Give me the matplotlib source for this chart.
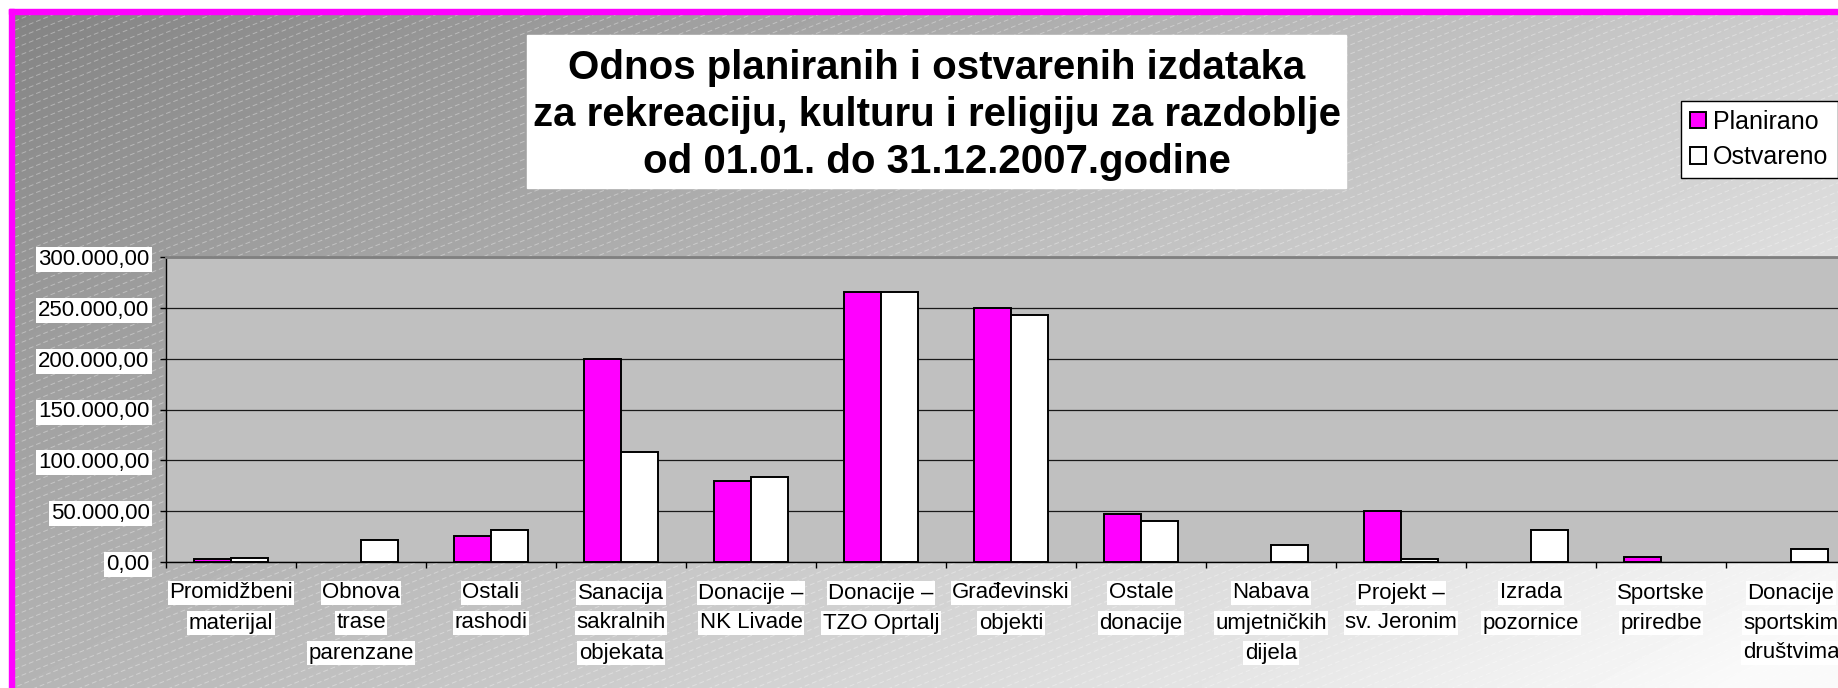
import numpy as np
import matplotlib
matplotlib.use("Agg")
import matplotlib.pyplot as plt
from matplotlib.patches import Rectangle
from matplotlib.ticker import FuncFormatter

plt.rcParams['font.family'] = ['Liberation Sans', 'DejaVu Sans']

# data
categories = ["Promidžbeni\nmaterijal", "Obnova\ntrase\nparenzane", "Ostali\nrashodi",
              "Sanacija\nsakralnih\nobjekata", "Donacije –\nNK Livade", "Donacije –\nTZO Oprtalj",
              "Građevinski\nobjekti", "Ostale\ndonacije", "Nabava\numjetničkih\ndijela",
              "Projekt –\nsv. Jeronim", "Izrada\npozornice", "Sportske\npriredbe",
              "Donacije\nsportskim\ndruštvima"]
planirano = [3000, 0, 26000, 200000, 79500, 265500, 249500, 47000, 0, 50000, 0, 5000, 0]
ostvareno = [4000, 21500, 31000, 108000, 83500, 265500, 243000, 40500, 16500, 3000, 31500, 0, 12500]
series_names = ["Planirano", "Ostvareno"]
title_lines = ["Odnos planiranih i ostvarenih izdataka",
               "za rekreaciju, kulturu i religiju za razdoblje",
               "od 01.01. do 31.12.2007.godine"]
yticks = [0, 50000, 100000, 150000, 200000, 250000, 300000]

W, H = 1838, 688
fig = plt.figure(figsize=(W / 100, H / 100), dpi=100)

# background: gradient + diagonal stripes, in pixel coords
bg = fig.add_axes([0, 0, 1, 1])
bg.set_xlim(0, W)
bg.set_ylim(H, 0)
bg.axis('off')
gx, gy = np.meshgrid(np.linspace(0, W, 200), np.linspace(0, H, 100))
grad = np.clip(132 + 0.04 * gx + 0.07 * gy, 0, 250) / 255.0
bg.imshow(grad, cmap='gray', vmin=0, vmax=1, extent=(14, W, H, 14),
          aspect='auto', interpolation='bilinear', zorder=0)
slope = 0.4
for c in np.arange(0, H + slope * W + 20, 9):
    bg.plot([0, W], [c, c - slope * W], color='white', alpha=0.35, lw=0.7,
            dashes=(5, 3), zorder=1)
# white margin and magenta border
bg.add_patch(Rectangle((0, 0), W, 9, color='white', zorder=2))
bg.add_patch(Rectangle((0, 0), 9, H, color='white', zorder=2))
bg.add_patch(Rectangle((9, 9), W - 9, 5, color='#FF00FF', zorder=3))
bg.add_patch(Rectangle((9, 9), 5, H - 9, color='#FF00FF', zorder=3))
# title box
bg.add_patch(Rectangle((527, 35), 1346 - 527, 188 - 35, color='white', zorder=4))
for k, line in enumerate(title_lines):
    bg.text(937, 79 + 47 * k, line, ha='center', va='baseline', fontsize=29,
            fontweight='bold', color='black', zorder=5)

# main plot area
left, right, top, bottom = 166, W, 257, 562
ax = fig.add_axes([left / W, 1 - bottom / H, (right - left) / W, (bottom - top) / H])
ax.set_facecolor('#C0C0C0')
x = np.arange(len(categories))
w = 0.288
b1 = ax.bar(x - w / 2, planirano, w, color='#FF00FF', edgecolor='black', linewidth=1.4,
            label=series_names[0], zorder=3)
b2 = ax.bar(x + w / 2, ostvareno, w, color='white', edgecolor='black', linewidth=1.4,
            label=series_names[1], zorder=3)
# empty bars leave no outline
for p in list(b1) + list(b2):
    if p.get_height() == 0:
        p.set_visible(False)

ax.set_yticks(yticks)
ax.yaxis.set_major_formatter(FuncFormatter(
    lambda v, p: f"{v:,.2f}".replace(",", "X").replace(".", ",").replace("X", ".")))
ax.grid(axis='y', color='#1a1a1a', linewidth=0.9, zorder=1)
ax.set_axisbelow(True)
ax.tick_params(axis='y', direction='out', length=4.3, width=1, pad=7.5,
               labelsize=16, colors='black')
for lbl in ax.get_yticklabels():
    lbl.set_bbox(dict(facecolor='white', edgecolor='none', pad=1.5))

ax.set_xticks(np.arange(-0.5, len(categories), 1))
ax.set_xticklabels([])
ax.tick_params(axis='x', direction='out', length=4.3, width=1)
# limits after ticks, so the ticks do not widen the view
ax.set_xlim(-0.5, -0.5 + (right - left) / 130.0)
ax.set_ylim(0, 300000)

for i, cat in enumerate(categories):
    for k, line in enumerate(cat.split("\n")):
        ax.annotate(line, xy=(i, 0), xycoords=('data', 'axes fraction'),
                    xytext=(0, -(31 + 30 * k) * 0.72), textcoords='offset points',
                    ha='center', va='center', fontsize=16, annotation_clip=False,
                    bbox=dict(facecolor='white', edgecolor='none', pad=1.2))

for s in ['left', 'bottom']:
    ax.spines[s].set_color('black')
    ax.spines[s].set_linewidth(1)
ax.spines['right'].set_visible(False)
ax.spines['top'].set_color('#808080')
ax.spines['top'].set_linewidth(2)

fig.legend(handles=[b1, b2], labels=series_names, loc='upper right',
           bbox_to_anchor=(1837.5 / W, 1 - 101 / H), bbox_transform=fig.transFigure,
           borderaxespad=0, fancybox=False, edgecolor='black', framealpha=1,
           fontsize=18, handlelength=0.65, handleheight=0.65, handletextpad=0.3,
           labelspacing=0.45, borderpad=0.35)

fig.savefig('out.png', dpi=100)
